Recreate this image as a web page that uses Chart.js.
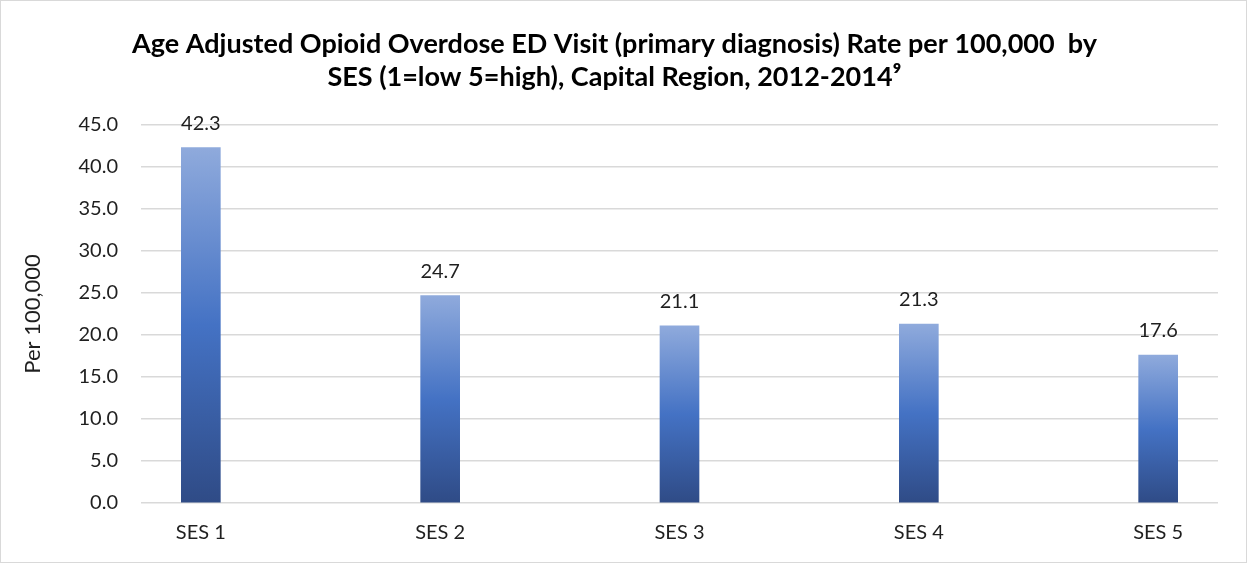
<!DOCTYPE html>
<html lang="en">
<head>
    <meta charset="UTF-8">
    <title>Opioid Overdose ED Visit Rate by SES</title>
    <style>
        body { margin: 0; background: #fff; }
        #wrap { width: 1245px; height: 561px; border: 1px solid #d9d9d9; }
    </style>
</head>
<body>
    <script src="https://cdn.jsdelivr.net/npm/chart.js@4.4.0/dist/chart.umd.min.js"></script>
    <div id="wrap"><canvas id="sesChart"></canvas></div>
    <script>
        var categories = ['SES 1', 'SES 2', 'SES 3', 'SES 4', 'SES 5'];
        var rates = [42.3, 24.7, 21.1, 21.3, 17.6];
        var yTicks = [0, 5, 10, 15, 20, 25, 30, 35, 40, 45];

        var fontFamily = 'Lato, "Open Sans", sans-serif';
        var textColor = '#1f1f1f';

        // light at the top of each bar, darker towards the base
        function barGradient(context) {
            var chart = context.chart;
            var yScale = chart.scales.y;
            if (!chart.chartArea || !yScale || context.dataIndex === undefined) return '#4472C4';
            var top = yScale.getPixelForValue(rates[context.dataIndex]);
            var bottom = yScale.getPixelForValue(0);
            if (!isFinite(top) || !isFinite(bottom)) return '#4472C4';
            var g = chart.ctx.createLinearGradient(0, top, 0, bottom);
            g.addColorStop(0, '#8FAADC');
            g.addColorStop(0.5, '#4472C4');
            g.addColorStop(1, '#2F4B86');
            return g;
        }

        var valueLabels = {
            id: 'valueLabels',
            afterDatasetsDraw: function (chart) {
                var ctx = chart.ctx;
                var meta = chart.getDatasetMeta(0);
                ctx.save();
                ctx.font = '20px ' + fontFamily;
                ctx.fillStyle = textColor;
                ctx.textAlign = 'center';
                ctx.textBaseline = 'alphabetic';
                meta.data.forEach(function (bar, i) {
                    ctx.fillText(rates[i].toFixed(1), bar.x, bar.y - 18);
                });
                ctx.restore();
            }
        };

        var points = rates.map(function (v, i) { return { x: i + 1, y: v }; });

        window.onload = function () {
            var ctx = document.getElementById('sesChart').getContext('2d');
            window.sesChart = new Chart(ctx, {
                type: 'bar',
                data: {
                    datasets: [{
                        data: points,
                        backgroundColor: barGradient,
                        barThickness: 39
                    }]
                },
                options: {
                    responsive: true,
                    maintainAspectRatio: false,
                    animation: false,
                    layout: { padding: { left: 10, right: 28, top: 0, bottom: 0 } },
                    scales: {
                        x: {
                            type: 'linear',
                            min: 0.75,
                            max: 5.25,
                            offset: false,
                            afterBuildTicks: function (scale) {
                                scale.ticks = categories.map(function (c, i) { return { value: i + 1 }; });
                            },
                            afterFit: function (scale) { scale.height = 59; },
                            grid: { display: false, drawTicks: false, offset: false },
                            border: { display: false },
                            ticks: {
                                padding: 18,
                                maxRotation: 0,
                                color: textColor,
                                font: { family: fontFamily, size: 20 },
                                callback: function (value) { return categories[value - 1]; }
                            }
                        },
                        y: {
                            min: 0,
                            max: 45,
                            afterBuildTicks: function (scale) {
                                scale.ticks = yTicks.map(function (v) { return { value: v }; });
                            },
                            afterFit: function (scale) { scale.width = 130; },
                            grid: { color: '#d9d9d9', lineWidth: 1.5, drawTicks: false },
                            border: { display: false },
                            ticks: {
                                padding: 23,
                                color: textColor,
                                font: { family: fontFamily, size: 20 },
                                callback: function (value) { return value.toFixed(1); }
                            },
                            title: {
                                display: true,
                                text: 'Per 100,000',
                                color: textColor,
                                font: { family: fontFamily, size: 22 },
                                padding: { top: 9, bottom: 0 }
                            }
                        }
                    },
                    plugins: {
                        legend: { display: false },
                        tooltip: { enabled: false },
                        title: {
                            display: true,
                            text: ['Age Adjusted Opioid Overdose ED Visit (primary diagnosis) Rate per 100,000  by',
                                   'SES (1=low 5=high), Capital Region, 2012-2014\u2079'],
                            color: '#000',
                            font: { family: fontFamily, size: 27, weight: 'bold', lineHeight: 1.222 },
                            padding: { top: 27, bottom: 31 }
                        }
                    }
                },
                plugins: [valueLabels]
            });
        };
    </script>
</body>
</html>
